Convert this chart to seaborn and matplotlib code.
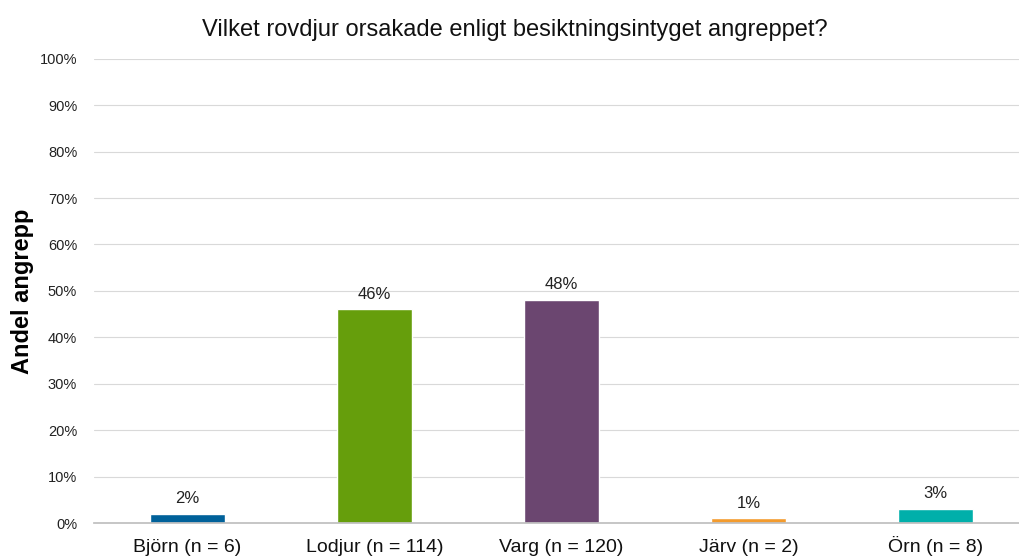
import numpy as np
import pandas as pd
import seaborn as sns
import matplotlib.pyplot as plt
from matplotlib.ticker import PercentFormatter

categories = ["Björn (n = 6)", "Lodjur (n = 114)", "Varg (n = 120)", "Järv (n = 2)", "Örn (n = 8)"]
shares = [2, 46, 48, 1, 3]
colors = ["#00619A", "#669E0C", "#6B4670", "#F39B2D", "#00AFAA"]

sns.set_theme(style="white")
plt.rcParams['font.family'] = ['Liberation Sans', 'DejaVu Sans']

df = pd.DataFrame({"kategori": categories, "andel": shares})

fig = plt.figure(figsize=(10.2, 5.6), dpi=100)
ax = fig.add_axes([0.092, 0.066, 0.917, 0.829])

sns.barplot(data=df, x="kategori", y="andel", hue="kategori", palette=colors,
            width=0.4, saturation=1, legend=False, ax=ax)

for i, v in enumerate(shares):
    ax.text(i, v + 1.7, f"{v}%", ha="center", va="bottom", fontsize=12, color="#222222")

ax.set_ylim(0, 100)
ax.set_yticks(np.arange(0, 101, 10))
ax.yaxis.set_major_formatter(PercentFormatter(decimals=0))
ax.grid(axis="y", color="#d9d9d9", linewidth=0.8)
ax.set_axisbelow(True)
for s in ["top", "right", "left"]:
    ax.spines[s].set_visible(False)
ax.spines["bottom"].set_color("#bfbfbf")
ax.tick_params(axis="y", labelsize=10.5, colors="#222222", length=0, pad=12)
ax.tick_params(axis="x", labelsize=14, colors="#111111", length=0, pad=21)
# common baseline so "Örn" does not drop below the others
for lbl in ax.get_xticklabels():
    lbl.set_verticalalignment("baseline")
ax.set_xlabel("")
ax.set_ylabel("Andel angrepp", fontsize=17, fontweight="bold", color="black", labelpad=4)

# title centred on the figure, as in the original
fig.text(0.505, 1 - 30 / 560, "Vilket rovdjur orsakade enligt besiktningsintyget angreppet?",
         ha="center", va="center", fontsize=17, color="#111111")

fig.savefig("out.png", dpi=100)
